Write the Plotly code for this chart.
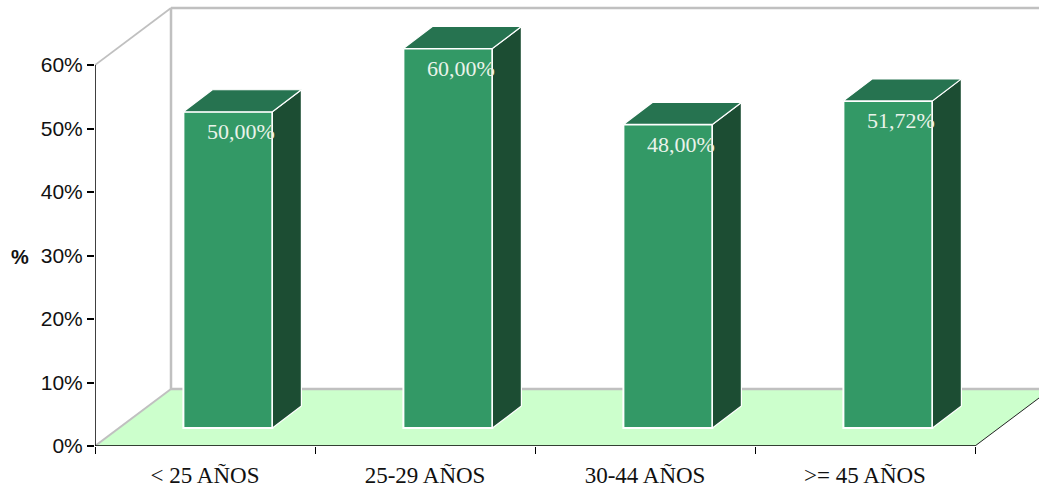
import plotly.graph_objects as go

categories = ["< 25 AÑOS", "25-29 AÑOS", "30-44 AÑOS", ">= 45 AÑOS"]
values = [50.0, 60.0, 48.0, 51.72]
y_ticks = [0, 10, 20, 30, 40, 50, 60]

W, H = 1039, 490
L, B = 95, 44
PX_X = 220.0          # pixels per category
PX_Y = 381 / 60.0     # pixels per percent
FRONT = "#339966"; TOP = "#267350"; SIDE = "#1C4D33"
FLOOR = "#CCFFCC"; WALL = "#C0C0C0"

x_max = (W - L) / PX_X
y_max = (H - B) / PX_Y
wall_dx, wall_dy = 76 / PX_X, 57 / PX_Y
bar_dx, bar_dy = 29 / PX_X, 22 / PX_Y
lift = 18 / PX_Y
shift = 22.9 / PX_X
bar_w = 89 / PX_X
persp = 0.996
n = len(categories)

centers = [i + 0.5 + shift for i in range(n)]
heights = [v * persp for v in values]

fig = go.Figure()
fig.add_trace(go.Bar(x=centers, y=heights, base=lift, width=bar_w,
                     marker=dict(color=FRONT, line=dict(color="white", width=2)),
                     hoverinfo="skip", showlegend=False))

tx, ty, sx, sy = [], [], [], []
for c, h in zip(centers, heights):
    x0, x1 = c - bar_w / 2, c + bar_w / 2
    t = lift + h
    tx += [x0, x1, x1 + bar_dx, x0 + bar_dx, x0, None]
    ty += [t, t, t + bar_dy, t + bar_dy, t, None]
    sx += [x1, x1 + bar_dx, x1 + bar_dx, x1, x1, None]
    sy += [lift, lift + bar_dy, t + bar_dy, t, lift, None]
fig.add_trace(go.Scatter(x=sx, y=sy, mode="lines", fill="toself", fillcolor=SIDE,
                         line=dict(color="white", width=1.2), hoverinfo="skip", showlegend=False))
fig.add_trace(go.Scatter(x=tx, y=ty, mode="lines", fill="toself", fillcolor=TOP,
                         line=dict(color="white", width=1.2), hoverinfo="skip", showlegend=False))
fig.add_trace(go.Scatter(
    x=[c + 13 / PX_X for c in centers],
    y=[lift + h - 22 / PX_Y for h in heights],
    mode="text",
    text=[f"{v:.2f}%".replace(".", ",") for v in values],
    textposition="middle center",
    textfont=dict(family="Liberation Serif", size=22, color="#EAF3EA"),
    hoverinfo="skip", showlegend=False, cliponaxis=False))

# black axis lines
fig.add_trace(go.Scatter(x=[0, 0, None, 0, n], y=[0, 60, None, 0, 0],
                         mode="lines", line=dict(color="black", width=1.5),
                         hoverinfo="skip", showlegend=False, cliponaxis=False))
fig.add_trace(go.Scatter(x=[n, x_max], y=[0, wall_dy * (x_max - n) / wall_dx],
                         mode="lines", line=dict(color="#222222", width=1),
                         hoverinfo="skip", showlegend=False, cliponaxis=False))

shapes = [
    dict(type="path", layer="below", xref="x", yref="y", line=dict(width=0), fillcolor=FLOOR,
         path=f"M 0 0 L {n} 0 L {n + wall_dx} {wall_dy} L {wall_dx} {wall_dy} Z"),
]
for (a, b, c, d, w) in [
    (0, 0, wall_dx, wall_dy, 2),
    (wall_dx, wall_dy, x_max, wall_dy, 2.5),
    (wall_dx, wall_dy, wall_dx, 60 + wall_dy, 2.5),
    (0, 60, wall_dx, 60 + wall_dy, 1.8),
    (wall_dx, 60 + wall_dy, x_max, 60 + wall_dy, 2.5),
]:
    shapes.append(dict(type="line", layer="below", xref="x", yref="y",
                       x0=a, y0=b, x1=c, y1=d, line=dict(color=WALL, width=w)))

fig.update_layout(
    width=W, height=H, autosize=False,
    margin=dict(l=L, r=0, t=0, b=B, pad=0),
    paper_bgcolor="white", plot_bgcolor="white",
    showlegend=False, shapes=shapes,
    xaxis=dict(range=[0, x_max], showgrid=False, zeroline=False, showline=False,
               tickmode="array", tickvals=[i + 0.5 for i in range(n)], ticktext=categories,
               ticks="outside", ticklen=7, tickcolor="rgba(0,0,0,0)", ticklabelstandoff=1,
               tickfont=dict(family="Liberation Serif", size=23, color="#111111"),
               minor=dict(ticks="outside", ticklen=7, tickcolor="black", tick0=0, dtick=1, showgrid=False)),
    yaxis=dict(range=[0, y_max], showgrid=False, zeroline=False, showline=False,
               tickmode="array", tickvals=y_ticks, ticktext=[f"{t}%" for t in y_ticks],
               ticks="outside", ticklen=7, tickcolor="black", tickwidth=1.5,
               tickfont=dict(family="Liberation Sans", size=21, color="#111111")),
    annotations=[dict(text="<b>%</b>", xref="paper", yref="paper",
                      x=(20 - L) / (W - L), y=(H - B - 257) / (H - B),
                      showarrow=False, xanchor="center", yanchor="middle",
                      font=dict(family="Liberation Sans", size=20, color="#111111"))],
)
fig.write_html("out.html", post_script="document.body.style.margin='0';",
               config={"displayModeBar": False})
